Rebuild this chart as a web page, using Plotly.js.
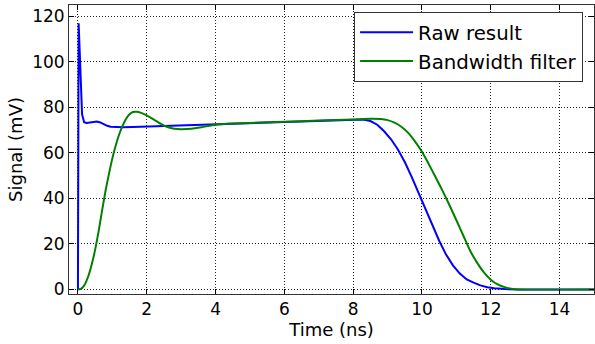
<!DOCTYPE html>
<html>
<head>
<meta charset="utf-8">
<script src="https://cdn.plot.ly/plotly-3.0.1.min.js"></script>
<style>html,body{margin:0;padding:0;background:#fff;}#chart{width:595px;height:344px;}</style>
</head>
<body>
<div id="chart"></div>
<script>
// Raw result (blue)
const rawTime = [0, 0.02, 0.05, 0.08, 0.12, 0.18, 0.25, 0.35, 0.45, 0.55, 0.65, 0.75, 0.85, 0.95, 1.1, 1.3, 1.6, 2, 3, 4, 5, 6, 7, 8, 8.3, 8.5, 8.7, 8.9, 9.1, 9.3, 9.5, 9.7, 9.9, 10.1, 10.3, 10.5, 10.7, 10.9, 11.1, 11.3, 11.5, 11.7, 11.9, 12.1, 12.4, 12.8, 15];
const rawSignal = [0, 117, 105, 88, 77, 73.5, 73.2, 73.4, 73.7, 73.8, 73.4, 72.6, 71.9, 71.5, 71.3, 71.3, 71.4, 71.6, 72.1, 72.6, 73.1, 73.6, 74.2, 74.8, 74.7, 74.0, 72.4, 69.5, 66, 61.5, 56, 49.5, 42.5, 35.3, 28.4, 21.4, 15.3, 10.6, 7, 4.4, 3.0, 1.8, 1.0, 0.5, 0.15, 0, 0];
// Bandwidth filter (green)
const filtTime = [0, 0.1, 0.2, 0.3, 0.4, 0.5, 0.6, 0.7, 0.8, 0.9, 1.0, 1.1, 1.2, 1.3, 1.4, 1.5, 1.6, 1.7, 1.8, 2.0, 2.2, 2.4, 2.6, 2.8, 3.0, 3.3, 3.6, 4.0, 4.5, 5, 6, 7, 8, 8.5, 8.8, 9.0, 9.2, 9.4, 9.6, 9.8, 10.0, 10.2, 10.4, 10.6, 10.8, 11.0, 11.2, 11.4, 11.6, 11.8, 12.0, 12.2, 12.4, 12.6, 12.8, 15];
const filtSignal = [0, 0.4, 2.2, 5.8, 11, 17.5, 25.5, 34.5, 43.2, 50.7, 57.6, 63.4, 68.2, 72, 75, 77, 78, 78.1, 77.8, 76.5, 74.7, 72.9, 71.4, 70.6, 70.4, 70.6, 71.3, 72.4, 72.9, 73.2, 73.7, 74.2, 74.7, 75.0, 74.9, 74.4, 73.3, 71.5, 68.8, 65, 60.5, 55, 49.2, 43.3, 37, 30.4, 23.7, 17, 11.8, 7.5, 4.3, 2.2, 1.0, 0.3, 0, 0];
const seriesNames = ["Raw result", "Bandwidth filter"];
const xTicks = [0, 2, 4, 6, 8, 10, 12, 14];
const yTicks = [0, 20, 40, 60, 80, 100, 120];

const tickFont = {family: "DejaVu Sans", size: 17, color: "#000"};
const titleFont = {family: "DejaVu Sans", size: 18, color: "#000"};
const legendFont = {family: "DejaVu Sans", size: 19.8, color: "#000"};
const traces = [
  {x: rawTime, y: rawSignal, name: seriesNames[0], mode: "lines",
   line: {color: "#0000ff", width: 2}},
  {x: filtTime, y: filtSignal, name: seriesNames[1], mode: "lines",
   line: {color: "#008000", width: 2, shape: "spline", smoothing: 0.6}}
];
const axisCommon = {
  showline: true, linecolor: "#333", linewidth: 1, mirror: "ticks",
  ticks: "inside", ticklen: 5, tickcolor: "#000", tickwidth: 1,
  showgrid: true, gridcolor: "#222", griddash: "1px,2px", gridwidth: 1,
  zeroline: false, tickfont: tickFont
};
const layout = {
  width: 595, height: 344,
  margin: {l: 69, r: 1, t: 5, b: 50},
  paper_bgcolor: "#fff", plot_bgcolor: "#fff",
  font: tickFont,
  showlegend: true,
  xaxis: Object.assign({}, axisCommon, {
    range: [-0.26, 15], tickvals: xTicks, ticktext: xTicks.map(String),
    title: {text: "Time (ns)", font: titleFont, standoff: 3}
  }),
  yaxis: Object.assign({}, axisCommon, {
    range: [-2, 125], tickvals: yTicks, ticktext: yTicks.map(String),
    title: {text: "Signal (mV)", font: titleFont, standoff: 4}
  }),
  legend: {
    x: 0.543, y: 0.976, xanchor: "left", yanchor: "top",
    bgcolor: "#fff", bordercolor: "#333", borderwidth: 1,
    font: legendFont, traceorder: "normal", itemwidth: 53
  }
};
Plotly.newPlot("chart", traces, layout, {displayModeBar: false, staticPlot: true});
</script>
</body>
</html>
